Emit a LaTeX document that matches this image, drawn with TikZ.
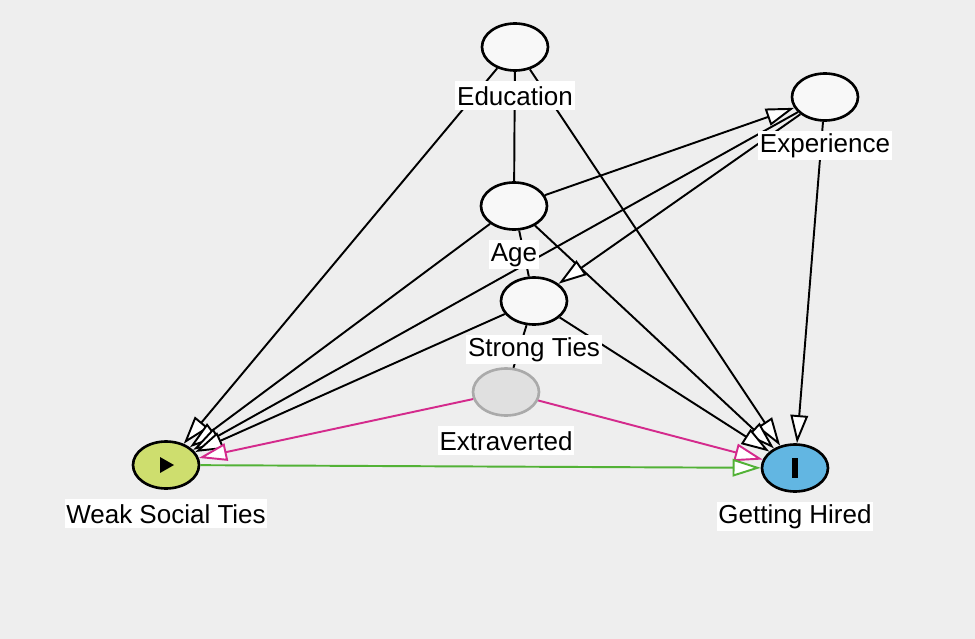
\documentclass[tikz,border=0pt]{standalone}
\usepackage{fontspec}
\setmainfont{Liberation Sans}
\usepackage{tikz}
\usetikzlibrary{arrows.meta,shapes.geometric}
\usepackage{xcolor}
\definecolor{bggray}{HTML}{EEEEEE}
\definecolor{varfill}{HTML}{F8F8F8}
\definecolor{expofill}{HTML}{CEDE6E}
\definecolor{outfill}{HTML}{62B6E2}
\definecolor{latfill}{HTML}{E0E0E0}
\definecolor{latdraw}{HTML}{AAAAAA}
\definecolor{biaspath}{HTML}{D42A8C}
\definecolor{causalpath}{HTML}{52B236}

\begin{document}
\begin{tikzpicture}[x=0.02cm, y=-0.02cm,
        var/.style={ellipse, draw, line width=1.5pt, fill=varfill, minimum width=1.32cm, minimum height=0.94cm, inner sep=0pt},
        lbl/.style={fill=white, inner xsep=1pt, inner ysep=0pt, minimum height=0.58cm, font=\fontsize{14.8}{17}\selectfont},
        arr/.style={line width=1.1pt, -{Triangle[fill=white, length=16pt, width=10pt]}},
        ln/.style={line width=1.1pt}]
        \fill[bggray] (0,0) rectangle (975,639);
        \node[var] (edu) at (515,47) {};
        \node[var] (exp) at (825,97) {};
        \node[var] (age) at (514,206) {};
        \node[var] (st) at (534,301) {};
        \node[var, fill=latfill, draw=latdraw] (ext) at (506,392) {};
        \node[var, fill=expofill] (wst) at (166,465) {};
        \node[var, fill=outfill] (hired) at (795,468) {};
        \fill (wst.center) ++(-6,-8) -- ++(14,8) -- ++(-14,8) -- cycle;
        \fill (hired.center) ++(-3,-10) rectangle ++(6,20);
        \foreach \a/\b in {edu/age, age/st, st/ext}{
        \draw[ln] (\a) -- (\b);}
        \foreach \a/\b in {edu/wst, edu/hired, age/exp, age/wst, age/hired, exp/st, exp/wst, exp/hired, st/wst, st/hired}{
        \draw[arr] (\a) -- (\b);}
        \foreach \b in {wst, hired}{
        \draw[arr, biaspath] (ext) -- (\b);}
        \draw[arr, causalpath] (wst) -- (hired);
        \foreach \n/\t in {edu/Education, exp/Experience, age/Age, st/Strong Ties, ext/Extraverted, wst/Weak Social Ties, hired/Getting Hired}{
        \node[lbl, yshift=-0.98cm] (\n-lbl) at (\n) {\t};}
    \end{tikzpicture}
\end{document}
